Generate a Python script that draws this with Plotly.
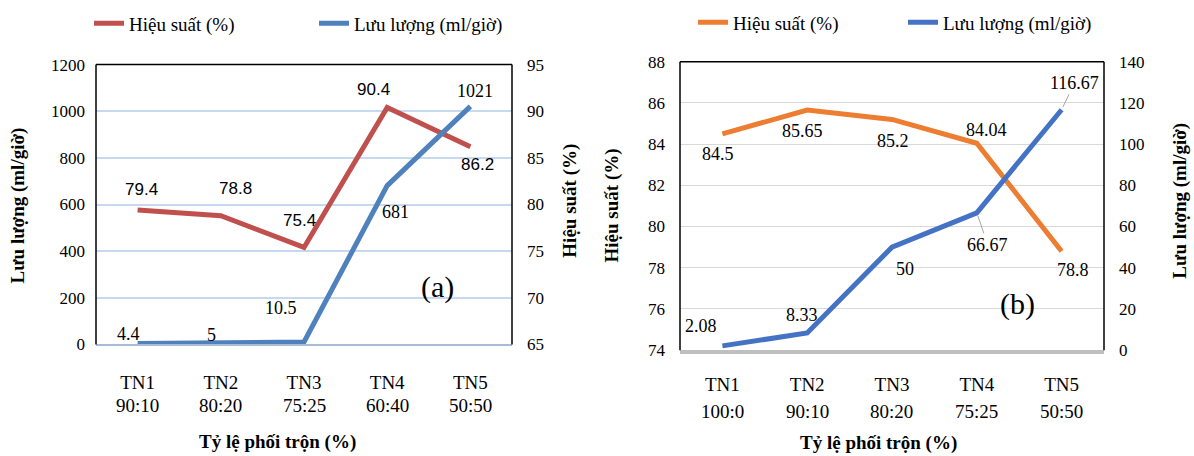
import plotly.graph_objects as go

# ---------------- data ----------------
names_a = ["TN1", "TN2", "TN3", "TN4", "TN5"]
ratios_a = ["90:10", "80:20", "75:25", "60:40", "50:50"]
eff_a = [79.4, 78.8, 75.4, 90.4, 86.2]          # Hiệu suất (%)
flow_a = [4.4, 5, 10.5, 681, 1021]              # Lưu lượng (ml/giờ)

names_b = ["TN1", "TN2", "TN3", "TN4", "TN5"]
ratios_b = ["100:0", "90:10", "80:20", "75:25", "50:50"]
eff_b = [84.5, 85.65, 85.2, 84.04, 78.8]
flow_b = [2.08, 8.33, 50, 66.67, 116.67]

# ---------------- styles ----------------
SERIF = "Times New Roman, Liberation Serif, DejaVu Serif, serif"
NARROW = "Liberation Sans Narrow, Arial Narrow, Liberation Sans, sans-serif"
RED = "#C0504D"
BLUE_A = "#4F81BD"
ORANGE = "#ED7D31"
BLUE_B = "#4472C4"
LW = 5

W, H = 1194, 456
xa_dom = [96 / W, 512 / W]
ya_dom = [1 - 350 / H, 1 - 58 / H]
xb_dom = [680 / W, 1104 / W]
yb_dom = [1 - 356 / H, 1 - 55 / H]

fig = go.Figure()

# panel (a)
fig.add_trace(go.Scatter(x=names_a, y=eff_a, mode="lines", name="Hiệu suất (%)",
                         line=dict(color=RED, width=LW), xaxis="x", yaxis="y",
                         legend="legend"))
fig.add_trace(go.Scatter(x=names_a, y=flow_a, mode="lines", name="Lưu lượng (ml/giờ)",
                         line=dict(color=BLUE_A, width=LW), xaxis="x", yaxis="y2",
                         legend="legend"))
# panel (b)
fig.add_trace(go.Scatter(x=names_b, y=eff_b, mode="lines", name="Hiệu suất (%)",
                         line=dict(color=ORANGE, width=LW), xaxis="x2", yaxis="y3",
                         legend="legend2"))
fig.add_trace(go.Scatter(x=names_b, y=flow_b, mode="lines", name="Lưu lượng (ml/giờ)",
                         line=dict(color=BLUE_B, width=LW), xaxis="x2", yaxis="y4",
                         legend="legend2"))

tickfont = dict(family=SERIF, size=17, color="black")
catfont = dict(family=SERIF, size=19, color="black")

fig.update_layout(
    width=W, height=H,
    margin=dict(l=0, r=0, t=0, b=0),
    paper_bgcolor="white", plot_bgcolor="white",
    xaxis=dict(domain=xa_dom, anchor="y", type="category", range=[-0.5, 4.5],
               showgrid=False, showline=True, linecolor="#A9BCD6", linewidth=2,
               ticks="", tickfont=catfont, ticklabelstandoff=20),
    yaxis=dict(domain=ya_dom, anchor="x", side="right", range=[65, 95], dtick=5,
               showgrid=True, gridcolor="#C6D9F1", gridwidth=2, zeroline=False,
               showline=False, ticks="", tickfont=tickfont, ticklabelstandoff=14),
    yaxis2=dict(anchor="x", overlaying="y", side="left", range=[0, 1200], dtick=200,
                showgrid=False, zeroline=False, showline=False, ticks="",
                tickfont=tickfont, ticklabelstandoff=10),
    xaxis2=dict(domain=xb_dom, anchor="y3", type="category", range=[-0.5, 4.5],
                showgrid=False, showline=True, linecolor="#BFBFBF", linewidth=4,
                ticks="", tickfont=catfont, ticklabelstandoff=14),
    yaxis3=dict(domain=yb_dom, anchor="x2", side="left", range=[74, 88], dtick=2,
                showgrid=True, gridcolor="#D9D9D9", gridwidth=1, zeroline=False,
                showline=False, ticks="", tickfont=tickfont, ticklabelstandoff=14),
    yaxis4=dict(anchor="x2", overlaying="y3", side="right", range=[0, 140], dtick=20,
                showgrid=False, zeroline=False, showline=False, ticks="",
                tickfont=tickfont, ticklabelstandoff=14),
    legend=dict(orientation="h", x=89 / W, xanchor="left", y=1 - 15 / H, yanchor="middle",
                font=dict(family=SERIF, size=19, color="black"), bgcolor="rgba(0,0,0,0)",
                entrywidth=180, entrywidthmode="pixels", traceorder="normal"),
    legend2=dict(orientation="h", x=693 / W, xanchor="left", y=1 - 14 / H, yanchor="middle",
                 font=dict(family=SERIF, size=19, color="black"), bgcolor="rgba(0,0,0,0)",
                 entrywidth=165, entrywidthmode="pixels", traceorder="normal"),
    showlegend=True,
)

# plot borders (left, top, right)
shapes = []
for xr, yr in (("x domain", "y domain"), ("x2 domain", "y3 domain")):
    for x0, y0, x1, y1 in ((0, 0, 0, 1), (0, 1, 1, 1), (1, 0, 1, 1)):
        shapes.append(dict(type="line", xref=xr, yref=yr, x0=x0, y0=y0, x1=x1, y1=y1,
                           line=dict(color="black", width=1.5), layer="above"))
fig.update_layout(shapes=shapes)

ann = []

# second line of the category tick labels (mixing ratios)
for names, ratios, xr, yr, dy in ((names_a, ratios_a, "x", "y domain", -61),
                                  (names_b, ratios_b, "x2", "y3 domain", -61)):
    for n, r in zip(names, ratios):
        ann.append(dict(x=n, y=0, xref=xr, yref=yr, text=r, showarrow=False,
                        yshift=dy, xanchor="center", yanchor="middle", font=catfont))

def labels(cats, vals, xref, yref, shifts, font):
    for c, v, (dx, dy) in zip(cats, vals, shifts):
        ann.append(dict(x=c, y=v, xref=xref, yref=yref, text=f"{v:g}",
                        showarrow=False, xshift=dx, yshift=-dy, font=font,
                        xanchor="center", yanchor="middle"))

lab_serif = dict(family=SERIF, size=18, color="black")
lab_narrow = dict(family=NARROW, size=17, color="black")

labels(names_a, eff_a, "x", "y", [(4, -21), (15, -27), (-5, -27), (-14, -18), (7, 18)], lab_narrow)
labels(names_a, flow_a, "x", "y2", [(-9, -9), (-9, -8), (-23, -34), (8, 26), (5, -15)], lab_serif)
labels(names_b, eff_b, "x2", "y3", [(-4, 20), (-5, 21), (1, 22), (10, -13), (11, 19)], lab_serif)
labels(names_b[:3], flow_b[:3], "x2", "y4", [(-21, -20), (-5, -18), (13, 22)], lab_serif)
for c, v, (ax, ay) in zip(names_b[3:], flow_b[3:], [(11, 32), (13, -27)]):
    ann.append(dict(x=c, y=v, xref="x2", yref="y4", text=f"{v:g}", showarrow=True,
                    arrowhead=0, arrowwidth=1, arrowcolor="#A6A6A6", ax=ax, ay=ay,
                    standoff=3, font=lab_serif))

title_font = dict(family=SERIF, size=19, color="black")

def ptext(x, y, text, font, angle=0):
    ann.append(dict(x=x / W, y=1 - y / H, xref="paper", yref="paper", text=text,
                    textangle=angle, showarrow=False, font=font,
                    xanchor="center", yanchor="middle"))

ptext(18, 205, "<b>Lưu lượng (ml/giờ)</b>", title_font, -90)
ptext(570, 200, "<b>Hiệu suất (%)</b>", title_font, -90)
ptext(277, 452, "<b>Tỷ lệ phối trộn (%)</b>", title_font)
ptext(612, 205, "<b>Hiệu suất (%)</b>", title_font, -90)
ptext(1180, 200, "<b>Lưu lượng (ml/giờ)</b>", title_font, -90)
ptext(878, 453, "<b>Tỷ lệ phối trộn (%)</b>", title_font)
ptext(437, 290, "(a)", dict(family=SERIF, size=30, color="black"))
ptext(1017, 308, "(b)", dict(family=SERIF, size=30, color="black"))

fig.update_layout(annotations=ann)

fig.write_html("out.html")
